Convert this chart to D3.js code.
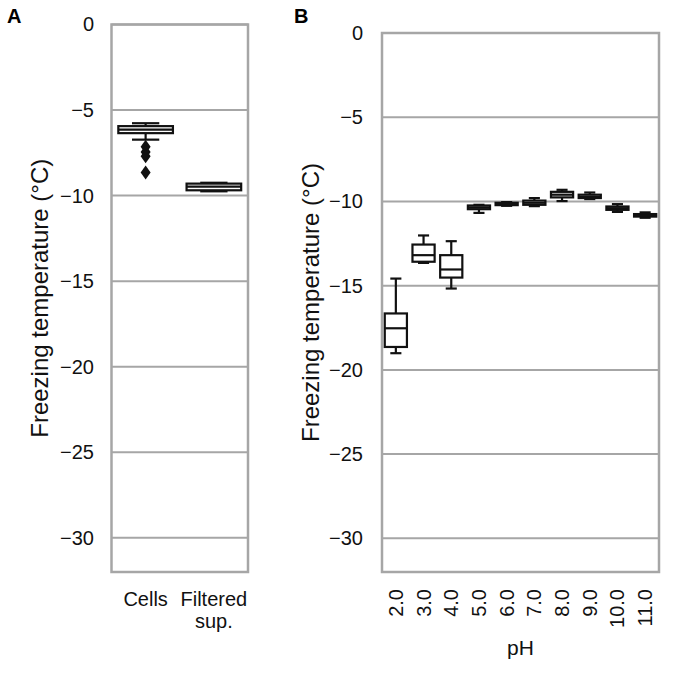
<!DOCTYPE html>
<html><head><meta charset="utf-8">
<script src="https://cdn.jsdelivr.net/npm/d3@7"></script>
<style>body{margin:0;background:#fff}svg{display:block;font-family:"Liberation Sans",Arial,sans-serif}</style>
</head><body><svg id="c" width="685" height="684"></svg>
<script>
// Panel A data
const catsA = ["Cells", "Filtered sup."];
const whiskHiA = [-5.77, -9.25];
const q3A = [-5.94, -9.30];
const medA = [-6.15, -9.48];
const q1A = [-6.35, -9.69];
const whiskLoA = [-6.73, -9.75];
const outliersA = [[-7.15, -7.45, -7.7, -8.65], []];

// Panel B data
const catsB = ["2.0","3.0","4.0","5.0","6.0","7.0","8.0","9.0","10.0","11.0"];
const whiskHiB = [-14.58, -12.02, -12.36, -10.20, -10.04, -9.80, -9.31, -9.47, -10.16, -10.65];
const q3B     = [-16.65, -12.56, -13.19, -10.24, -10.08, -9.95, -9.43, -9.60, -10.30, -10.75];
const medB    = [-17.53, -13.19, -14.04, -10.35, -10.15, -10.08, -9.60, -9.72, -10.40, -10.82];
const q1B     = [-18.64, -13.58, -14.52, -10.46, -10.22, -10.20, -9.76, -9.80, -10.50, -10.90];
const whiskLoB = [-19.01, -13.65, -15.17, -10.68, -10.26, -10.28, -9.98, -9.86, -10.62, -10.97];

const yTicks = [0, -5, -10, -15, -20, -25, -30];
const yLabel = "Freezing temperature (°C)";

const svg = d3.select("#c");
const grey = "#a6a6a6";
const ink = "#111";
const FS = 20;
const fmt = d => d === 0 ? "0" : "\u2212" + Math.abs(d);

function panel(cfg) {
  const {cats, lo, q1, med, q3, hi, out, x0, x1, y0, y1, letter, letterX, labelX, tickX} = cfg;
  const x = d3.scaleBand().domain(cats).range([x0, x1]).padding(0);
  const y = d3.scaleLinear().domain([-32, 0]).range([y1, y0]);
  const g = svg.append("g");
  g.selectAll("line.grid").data(yTicks).join("line")
    .attr("x1", x0).attr("x2", x1).attr("y1", d => y(d)).attr("y2", d => y(d))
    .attr("stroke", grey).attr("stroke-width", 2);
  g.append("rect").attr("x", x0).attr("y", y0).attr("width", x1 - x0).attr("height", y1 - y0)
    .attr("fill", "none").attr("stroke", grey).attr("stroke-width", 2.5);
  const ax = d3.axisLeft(y).tickValues(yTicks).tickFormat(fmt).tickSize(0).tickPadding(0);
  const ag = g.append("g").attr("transform", `translate(${tickX},0)`).call(ax);
  ag.select(".domain").remove();
  ag.selectAll("text").attr("font-size", FS).attr("fill", ink).attr("font-family", "Liberation Sans, Arial, sans-serif");
  g.append("text").attr("transform", `translate(${labelX},${(y0 + y1) / 2}) rotate(-90)`)
    .attr("text-anchor", "middle").attr("font-size", 24).attr("fill", ink).text(yLabel);
  svg.append("text").attr("x", letterX).attr("y", 23).attr("font-size", 20).attr("font-weight", "bold").text(letter);
  const bw = x.bandwidth() * 0.8;
  cats.forEach((c, i) => {
    const cx = x(c) + x.bandwidth() / 2;
    const bg = g.append("g").attr("stroke", ink).attr("stroke-width", 2.2).attr("fill", "none");
    bg.append("line").attr("x1", cx).attr("x2", cx).attr("y1", y(hi[i])).attr("y2", y(q3[i]));
    bg.append("line").attr("x1", cx).attr("x2", cx).attr("y1", y(q1[i])).attr("y2", y(lo[i]));
    bg.append("line").attr("x1", cx - bw / 4).attr("x2", cx + bw / 4).attr("y1", y(hi[i])).attr("y2", y(hi[i]));
    bg.append("line").attr("x1", cx - bw / 4).attr("x2", cx + bw / 4).attr("y1", y(lo[i])).attr("y2", y(lo[i]));
    bg.append("rect").attr("x", cx - bw / 2).attr("width", bw).attr("y", y(q3[i])).attr("height", y(q1[i]) - y(q3[i])).attr("fill", "#fff");
    bg.append("line").attr("x1", cx - bw / 2).attr("x2", cx + bw / 2).attr("y1", y(med[i])).attr("y2", y(med[i]));
    if (out) {
      (out[i] || []).forEach(v => {
        const yy = y(v);
        bg.append("path").attr("d", `M${cx},${yy - 7}L${cx + 5},${yy}L${cx},${yy + 7}L${cx - 5},${yy}Z`)
          .attr("fill", ink).attr("stroke", "none");
      });
    }
  });
  return {x, y, g};
}

const A = panel({cats: catsA, lo: whiskLoA, q1: q1A, med: medA, q3: q3A, hi: whiskHiA, out: outliersA,
  x0: 111.5, x1: 248, y0: 24.5, y1: 572, letter: "A", letterX: 7, labelX: 48, tickX: 94});
A.g.append("text").attr("x", A.x("Cells") + A.x.bandwidth() / 2).attr("y", 606).attr("text-anchor", "middle")
  .attr("font-size", FS).attr("fill", ink).text("Cells");
const fsx = A.x("Filtered sup.") + A.x.bandwidth() / 2;
const ft = A.g.append("text").attr("x", fsx).attr("y", 606).attr("text-anchor", "middle").attr("font-size", FS).attr("fill", ink);
ft.append("tspan").attr("x", fsx).text("Filtered");
ft.append("tspan").attr("x", fsx).attr("dy", 22).text("sup.");

const B = panel({cats: catsB, lo: whiskLoB, q1: q1B, med: medB, q3: q3B, hi: whiskHiB, out: null,
  x0: 382, x1: 659, y0: 33, y1: 572, letter: "B", letterX: 294, labelX: 319, tickX: 363});
catsB.forEach(c => {
  const cx = B.x(c) + B.x.bandwidth() / 2;
  B.g.append("text").attr("transform", `translate(${cx + 7},589) rotate(-90)`).attr("text-anchor", "end")
    .attr("font-size", FS).attr("fill", ink).text(c);
});
B.g.append("text").attr("x", (382 + 659) / 2).attr("y", 655).attr("text-anchor", "middle")
  .attr("font-size", 21).attr("fill", ink).text("pH");
</script></body></html>
